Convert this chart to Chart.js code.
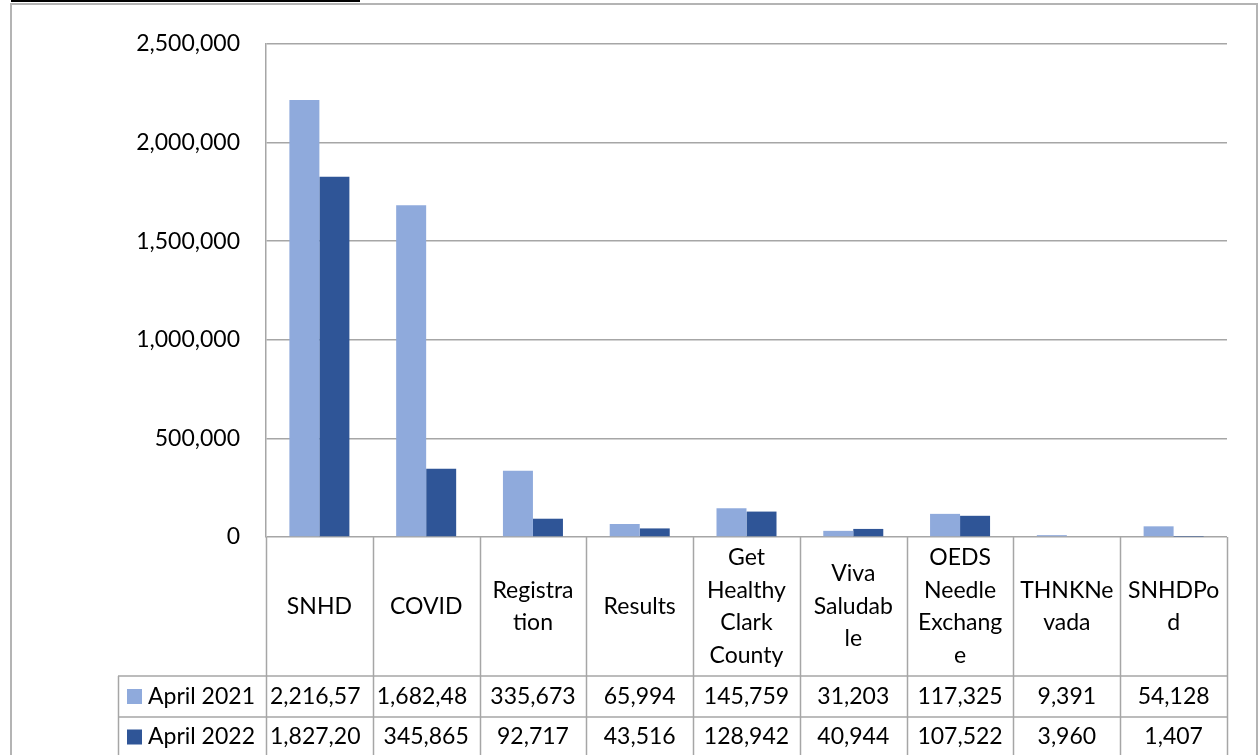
<!DOCTYPE html>
<html>
<head>
<meta charset="utf-8">
<script src="https://cdn.jsdelivr.net/npm/chart.js@4"></script>
<style>
  html, body { margin: 0; padding: 0; background: #fff; }
  #wrap { width: 1259px; height: 755px; position: relative; }
</style>
</head>
<body>
<div id="wrap"><canvas id="webChart"></canvas></div>
<script>
const categories = ['SNHD', 'COVID', 'Registration', 'Results', 'Get Healthy Clark County',
  'Viva Saludable', 'OEDS Needle Exchange', 'THNKNevada', 'SNHDPod'];
// header cells wrap the way the original table does
const headerLabels = [['SNHD'], ['COVID'], ['Registra', 'tion'], ['Results'],
  ['Get', 'Healthy', 'Clark', 'County'], ['Viva', 'Saludab', 'le'],
  ['OEDS', 'Needle', 'Exchang', 'e'], ['THNKNe', 'vada'], ['SNHDPo', 'd']];
const seriesNames = ['April 2021', 'April 2022'];
const april2021 = [2216573, 1682480, 335673, 65994, 145759, 31203, 117325, 9391, 54128];
const april2022 = [1827204, 345865, 92717, 43516, 128942, 40944, 107522, 3960, 1407];
const yTicks = [0, 500000, 1000000, 1500000, 2000000, 2500000];

const lightBlue = '#8faadc';
const darkBlue = '#2f5597';
const lineGray = '#a6a6a6';
const FONT = 'Lato, "Open Sans", sans-serif';

const fmt = v => v.toLocaleString('en-US');

// data table drawn under the plot, like the spreadsheet chart
const dataTable = {
  id: 'dataTable',
  afterDraw(chart) {
    const ctx = chart.ctx;
    const x = chart.scales.x;
    const area = chart.chartArea;
    const half = (x.getPixelForValue(1) - x.getPixelForValue(0)) / 2;
    const top = area.bottom;
    const row1 = 676, row2 = 717, bottom = 760;
    const legendLeft = 118;
    const series = [april2021, april2022];
    const colors = [lightBlue, darkBlue];

    ctx.save();
    ctx.strokeStyle = lineGray;
    ctx.lineWidth = 1.5;
    ctx.beginPath();
    for (let i = 0; i <= categories.length; i++) {
      const px = Math.round(x.getPixelForValue(i) - half) + 0.5;
      ctx.moveTo(px, top); ctx.lineTo(px, bottom);
    }
    ctx.moveTo(legendLeft, row1); ctx.lineTo(area.right, row1);
    ctx.moveTo(legendLeft, row2); ctx.lineTo(area.right, row2);
    ctx.moveTo(legendLeft + 0.5, row1); ctx.lineTo(legendLeft + 0.5, bottom);
    ctx.stroke();

    ctx.fillStyle = '#000';
    ctx.font = '23px ' + FONT;
    ctx.textAlign = 'center';
    ctx.textBaseline = 'middle';
    const lh = 32.5;
    headerLabels.forEach((lines, i) => {
      const cx = x.getPixelForValue(i);
      const cy = (top + row1) / 2 - (lines.length - 1) * lh / 2;
      lines.forEach((t, j) => ctx.fillText(t, cx, cy + j * lh));
    });

    const rowMid = [(row1 + row2) / 2, row2 + 20];
    series.forEach((vals, s) => {
      const cy = rowMid[s];
      ctx.fillStyle = colors[s];
      ctx.fillRect(127, cy - 7.5, 15, 15);
      ctx.fillStyle = '#000';
      ctx.textAlign = 'left';
      ctx.fillText(seriesNames[s], 148, cy);
      vals.forEach((v, i) => {
        const cx = x.getPixelForValue(i);
        const w = half * 2 - 6;
        let t = fmt(v);
        if (ctx.measureText(t).width > w) {
          // cell too narrow: cut characters off the end
          while (t.length && ctx.measureText(t).width > w) t = t.slice(0, -1);
          ctx.textAlign = 'left';
          ctx.fillText(t, cx - half + 4, cy);
        } else {
          ctx.textAlign = 'center';
          ctx.fillText(t, cx, cy);
        }
      });
    });

    // frame of the embedded chart
    ctx.strokeStyle = '#b4b4b4';
    ctx.lineWidth = 2;
    ctx.beginPath();
    ctx.moveTo(11, 760); ctx.lineTo(11, 4); ctx.lineTo(1257, 4); ctx.lineTo(1257, 760);
    ctx.stroke();
    ctx.fillStyle = '#000';
    ctx.fillRect(11, 0, 349, 2);
    ctx.restore();
  }
};

new Chart(document.getElementById('webChart').getContext('2d'), {
  type: 'bar',
  data: {
    labels: categories,
    datasets: [
      { label: seriesNames[0], data: april2021, backgroundColor: lightBlue },
      { label: seriesNames[1], data: april2022, backgroundColor: darkBlue }
    ]
  },
  options: {
    responsive: true,
    maintainAspectRatio: false,
    animation: false,
    layout: { padding: { top: 44, right: 32, bottom: 218, left: 0 } },
    datasets: { bar: { categoryPercentage: 0.562, barPercentage: 1 } },
    plugins: { legend: { display: false }, tooltip: { enabled: false } },
    scales: {
      x: { display: false },
      y: {
        min: 0,
        max: 2500000,
        afterFit: s => { s.width = 266; },
        afterBuildTicks: s => { s.ticks = yTicks.map(v => ({ value: v })); },
        grid: { color: lineGray, lineWidth: 1.5, drawTicks: false },
        border: { color: lineGray, width: 1.5 },
        ticks: {
          padding: 26,
          color: '#000',
          font: { family: FONT, size: 23 },
          callback: v => fmt(v)
        }
      }
    }
  },
  plugins: [dataTable]
});
</script>
</body>
</html>
